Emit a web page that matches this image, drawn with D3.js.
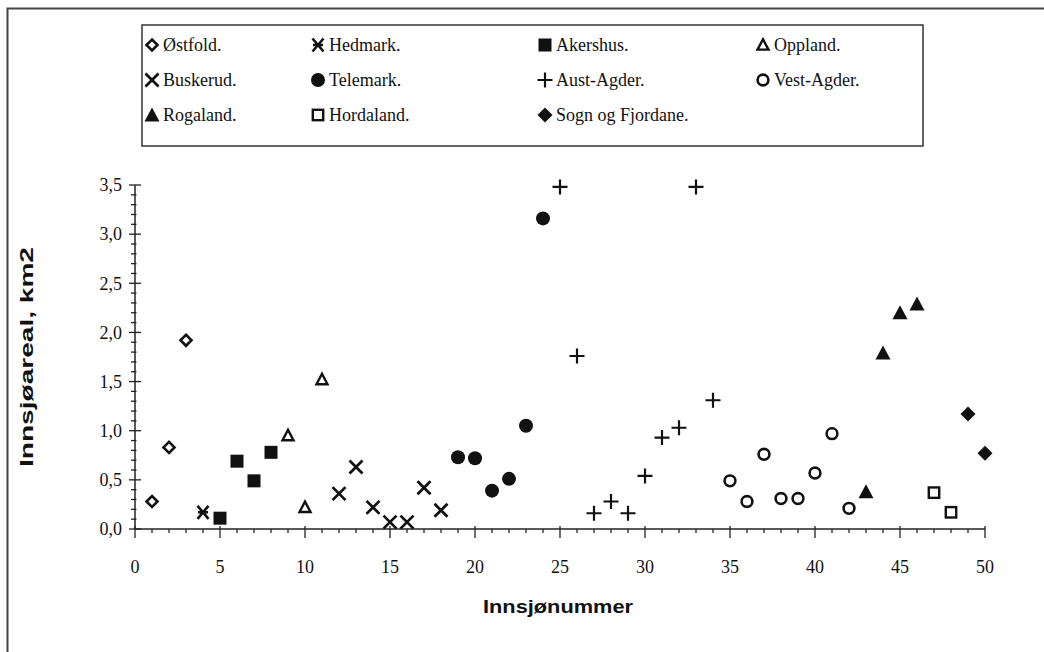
<!DOCTYPE html>
<html><head><meta charset="utf-8">
<script src="https://cdn.jsdelivr.net/npm/d3@7"></script>
<style>
html,body{margin:0;padding:0;background:#fff;}
svg{display:block;}
</style></head>
<body>
<svg id="chart" width="1044" height="652"></svg>
<script>
// ---- data ----
const seriesNames = ["Østfold.","Hedmark.","Akershus.","Oppland.","Buskerud.","Telemark.","Aust-Agder.","Vest-Agder.","Rogaland.","Hordaland.","Sogn og Fjordane."];
const ostfoldX = [1,2,3],                         ostfoldY = [0.28,0.83,1.92];
const hedmarkX = [4],                             hedmarkY = [0.17];
const akershusX = [5,6,7,8],                      akershusY = [0.11,0.69,0.49,0.78];
const opplandX = [9,10,11],                       opplandY = [0.95,0.22,1.52];
const buskerudX = [12,13,14,15,16,17,18],         buskerudY = [0.36,0.63,0.22,0.07,0.07,0.42,0.19];
const telemarkX = [19,20,21,22,23,24],            telemarkY = [0.73,0.72,0.39,0.51,1.05,3.16];
const austAgderX = [25,26,27,28,29,30,31,32,33,34], austAgderY = [3.48,1.76,0.16,0.28,0.16,0.54,0.93,1.03,3.48,1.31];
const vestAgderX = [35,36,37,38,39,40,41,42],     vestAgderY = [0.49,0.28,0.76,0.31,0.31,0.57,0.97,0.21];
const rogalandX = [43,44,45,46],                  rogalandY = [0.38,1.79,2.20,2.29];
const hordalandX = [47,48],                       hordalandY = [0.37,0.17];
const sognX = [49,50],                            sognY = [1.17,0.77];
const xTicks = [0,5,10,15,20,25,30,35,40,45,50];
const yTicks = [0,0.5,1.0,1.5,2.0,2.5,3.0,3.5];
const xTitle = "Innsjønummer";
const yTitle = "Innsjøareal, km2";

const markerTypes = ["diamondOpen","asterisk","squareFilled","triangleOpen","cross","circleFilled","plus","circleOpen","triangleFilled","squareOpen","diamondFilled"];
const seriesX = [ostfoldX,hedmarkX,akershusX,opplandX,buskerudX,telemarkX,austAgderX,vestAgderX,rogalandX,hordalandX,sognX];
const seriesY = [ostfoldY,hedmarkY,akershusY,opplandY,buskerudY,telemarkY,austAgderY,vestAgderY,rogalandY,hordalandY,sognY];
const series = seriesNames.map((n,i)=>({name:n, type:markerTypes[i], pts: seriesX[i].map((x,j)=>({x, y: seriesY[i][j]}))}));

// ---- layout ----
const svg = d3.select("#chart");
const ink = "#111";
const x = d3.scaleLinear().domain([0,50]).range([135,985]);
const y = d3.scaleLinear().domain([0,3.5]).range([529,185]);

// outer frame
svg.append("path").attr("d","M7.5,660 L7.5,8.5 L1050,8.5").attr("fill","none").attr("stroke","#444").attr("stroke-width",2);

// marker drawer
function drawMarker(g, type, cx, cy){
  const s = g.append("g").attr("transform",`translate(${cx},${cy})`);
  switch(type){
    case "diamondOpen":
      s.append("path").attr("d","M0,-5.5 L5.5,0 L0,5.5 L-5.5,0 Z").attr("fill","#fff").attr("stroke",ink).attr("stroke-width",2.6); break;
    case "diamondFilled":
      s.append("path").attr("d","M0,-7.5 L7.5,0 L0,7.5 L-7.5,0 Z").attr("fill",ink); break;
    case "squareFilled":
      s.append("rect").attr("x",-6.5).attr("y",-6.5).attr("width",13).attr("height",13).attr("fill",ink); break;
    case "squareOpen":
      s.append("rect").attr("x",-5.2).attr("y",-5.2).attr("width",10.4).attr("height",10.4).attr("fill","#fff").attr("stroke",ink).attr("stroke-width",2.4); break;
    case "triangleOpen":
      s.append("path").attr("d","M0,-5.8 L5.5,4.6 L-5.5,4.6 Z").attr("fill","#fff").attr("stroke",ink).attr("stroke-width",2.4).attr("stroke-linejoin","miter"); break;
    case "triangleFilled":
      s.append("path").attr("d","M0,-7.5 L7.5,6.5 L-7.5,6.5 Z").attr("fill",ink); break;
    case "circleFilled":
      s.append("circle").attr("r",7).attr("fill",ink); break;
    case "circleOpen":
      s.append("circle").attr("r",5.4).attr("fill","#fff").attr("stroke",ink).attr("stroke-width",2.6); break;
    case "cross":
      s.append("path").attr("d","M-6.5,-6.5 L6.5,6.5 M6.5,-6.5 L-6.5,6.5").attr("stroke",ink).attr("stroke-width",2.8); break;
    case "plus":
      s.append("path").attr("d","M-7.5,0 L7.5,0 M0,-7.5 L0,7.5").attr("stroke",ink).attr("stroke-width",2.2); break;
    case "asterisk":
      s.append("path").attr("d","M-5.5,-6.5 L5.5,6.5 M5.5,-6.5 L-5.5,6.5 M-5,0 L5,0").attr("stroke",ink).attr("stroke-width",2.6); break;
  }
}

// ---- axes ----
const gy = svg.append("g");
gy.append("line").attr("x1",x(0)).attr("x2",x(0)).attr("y1",y(0)).attr("y2",y(3.5)).attr("stroke","#222").attr("stroke-width",1.5);
d3.range(0,36).forEach(i=>{
  const v=i/10, major = i%5===0;
  gy.append("line").attr("x1",x(0)-(major?6:4)).attr("x2",x(0)+(major?6:1.5)).attr("y1",y(v)).attr("y2",y(v)).attr("stroke","#222").attr("stroke-width",1.3);
});
gy.selectAll("text.yt").data(yTicks).join("text").attr("class","yt")
  .attr("x",122).attr("y",d=>y(d)).attr("dy","0.35em").attr("text-anchor","end")
  .attr("font-family","'Liberation Serif', 'Times New Roman', serif").attr("font-size",18).attr("fill",ink)
  .text(d=>d3.format(".1f")(d).replace(".",","));

const gx = svg.append("g");
gx.append("line").attr("x1",x(0)).attr("x2",x(50)).attr("y1",y(0)).attr("y2",y(0)).attr("stroke","#222").attr("stroke-width",1.5);
d3.range(0,51).forEach(i=>{
  const major = i%5===0;
  gx.append("line").attr("x1",x(i)).attr("x2",x(i)).attr("y1",y(0)-(major?3:0)).attr("y2",y(0)+(major?9:4)).attr("stroke","#222").attr("stroke-width",1.3);
});
gx.selectAll("text.xt").data(xTicks).join("text").attr("class","xt")
  .attr("x",d=>x(d)).attr("y",y(0)+44).attr("text-anchor","middle")
  .attr("font-family","'Liberation Serif', 'Times New Roman', serif").attr("font-size",18).attr("fill",ink)
  .text(d=>d);

// axis titles
svg.append("text").attr("x",558).attr("y",613).attr("text-anchor","middle")
  .attr("font-family","'Liberation Sans', Arial, sans-serif").attr("font-weight","bold").attr("font-size",18).attr("fill",ink)
  .attr("textLength",150).attr("lengthAdjust","spacingAndGlyphs").text(xTitle);
svg.append("text").attr("transform","translate(33,357) rotate(-90)").attr("text-anchor","middle")
  .attr("font-family","'Liberation Sans', Arial, sans-serif").attr("font-weight","bold").attr("font-size",18).attr("fill",ink)
  .attr("textLength",220).attr("lengthAdjust","spacingAndGlyphs").text(yTitle);

// ---- points ----
const gp = svg.append("g");
series.forEach(s=>{
  s.pts.forEach(p=>drawMarker(gp, s.type, x(p.x), y(p.y)));
});

// ---- legend ----
const lg = svg.append("g");
lg.append("rect").attr("x",142).attr("y",25).attr("width",781).attr("height",121).attr("fill","#fff").attr("stroke","#333").attr("stroke-width",1.5);
const colX = [152,318,545,763], rowY = [45,80,115];
series.forEach((s,i)=>{
  const cx = colX[i%4], cy = rowY[Math.floor(i/4)];
  drawMarker(lg, s.type, cx, cy);
  lg.append("text").attr("x",cx+11).attr("y",cy).attr("dy","0.35em")
    .attr("font-family","'Liberation Serif', 'Times New Roman', serif").attr("font-size",18).attr("fill",ink)
    .text(s.name);
});
</script>
</body></html>
